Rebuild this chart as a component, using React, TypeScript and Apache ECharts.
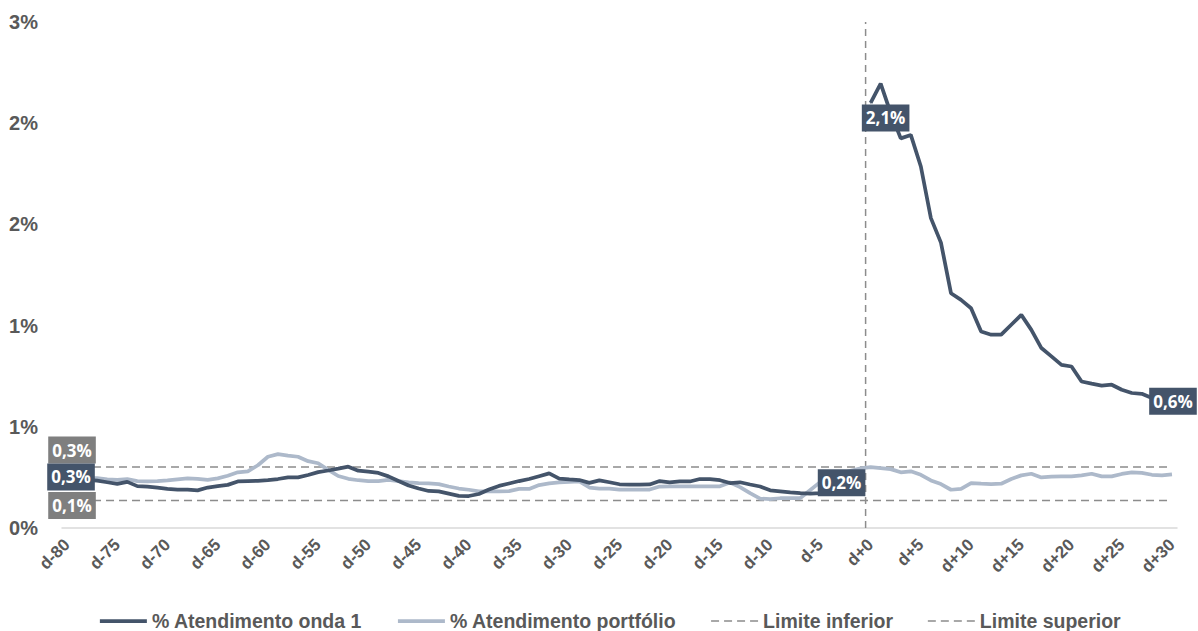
import React, { useEffect, useRef } from "react";
import * as echarts from "echarts";

// Day labels relative to the wave start: d-80 … d+30
const dayOffsets: number[] = Array.from({ length: 111 }, (_, i) => i - 80);
const categories: string[] = dayOffsets.map((d) => (d < 0 ? `d${d}` : `d+${d}`));

// % Atendimento onda 1 — before the wave (d-80 … d-1)
const ondaBefore: number[] = [
  0.252, 0.245, 0.238, 0.234, 0.226, 0.218, 0.228, 0.207, 0.204, 0.199,
  0.193, 0.19, 0.19, 0.186, 0.2, 0.207, 0.213, 0.23, 0.232, 0.233,
  0.236, 0.242, 0.25, 0.25, 0.262, 0.276, 0.284, 0.293, 0.303, 0.283,
  0.278, 0.272, 0.255, 0.232, 0.21, 0.195, 0.183, 0.181, 0.17, 0.159,
  0.158, 0.168, 0.19, 0.208, 0.22, 0.232, 0.242, 0.256, 0.27, 0.244,
  0.24, 0.237, 0.223, 0.235, 0.226, 0.216, 0.214, 0.214, 0.215, 0.232,
  0.225, 0.23, 0.23, 0.242, 0.242, 0.236, 0.222, 0.226, 0.215, 0.205,
  0.186, 0.181, 0.176, 0.172, 0.17, 0.172, 0.18, 0.19, 0.205, 0.224,
];

// % Atendimento onda 1 — from the wave start (d+0 … d+30)
const ondaAfter: number[] = [
  2.1, 2.195, 2.05, 1.925, 1.942, 1.786, 1.531, 1.41, 1.16, 1.127,
  1.086, 0.971, 0.955, 0.955, 1.004, 1.053, 0.979, 0.889, 0.848, 0.806,
  0.798, 0.724, 0.713, 0.703, 0.708, 0.683, 0.667, 0.663, 0.642, 0.632,
  0.626,
];

// % Atendimento portfólio (d-80 … d-1)
const portfolioBefore: number[] = [
  0.25, 0.25, 0.248, 0.247, 0.24, 0.238, 0.242, 0.232, 0.23, 0.232,
  0.235, 0.24, 0.245, 0.243, 0.238, 0.245, 0.258, 0.275, 0.28, 0.31,
  0.352, 0.365, 0.358, 0.352, 0.33, 0.32, 0.287, 0.257, 0.243, 0.236,
  0.232, 0.232, 0.238, 0.232, 0.226, 0.222, 0.22, 0.217, 0.205, 0.195,
  0.189, 0.181, 0.181, 0.181, 0.182, 0.193, 0.193, 0.212, 0.22, 0.225,
  0.228, 0.23, 0.2, 0.195, 0.195, 0.19, 0.189, 0.189, 0.19, 0.205,
  0.206, 0.206, 0.206, 0.206, 0.206, 0.206, 0.225, 0.202, 0.172, 0.145,
  0.143, 0.147, 0.148, 0.148, 0.188, 0.228, 0.25, 0.268, 0.283, 0.295,
];

// % Atendimento portfólio (d+0 … d+30)
const portfolioAfter: number[] = [
  0.301, 0.296, 0.291, 0.275, 0.28, 0.263, 0.235, 0.217, 0.189, 0.193,
  0.222, 0.219, 0.217, 0.219, 0.242, 0.26, 0.268, 0.25, 0.254, 0.255,
  0.255, 0.26, 0.268, 0.255, 0.255, 0.267, 0.275, 0.272, 0.263, 0.26,
  0.265,
];

// Control limits
const limiteInferior = 0.136;
const limiteSuperior = 0.301;

// Value-axis tick labels (0 … 2.5 by 0.5, shown with no decimals)
const yTickLabels: string[] = ["0%", "1%", "1%", "2%", "2%", "3%"];

const DARK = "#44546A";
const LIGHT = "#ADB9CA";
const GRAY = "#8C8C8C";
const TEXT = "#595959";

const pct = (v: number) => v.toFixed(1).replace(".", ",") + "%";

// Boxed value label attached to a single point
const labelled = (value: number, bg: string, offset: number[]) => ({
  value,
  symbol: "circle",
  symbolSize: 1,
  label: {
    show: true,
    position: "inside",
    offset,
    formatter: () => pct(value),
    backgroundColor: bg,
    color: "#FFFFFF",
    fontFamily: "Open Sans",
    fontWeight: "bold",
    fontSize: 17,
    lineHeight: 19,
    padding: [4, 4, 4, 4],
  },
});

export default function App() {
  const ref = useRef<HTMLDivElement>(null);

  useEffect(() => {
    document.body.style.margin = "0";
    if (!ref.current) return;
    const chart = echarts.init(ref.current, undefined, { renderer: "svg" });

    const n = categories.length;
    const nb = ondaBefore.length;
    const gap = (k: number) => Array.from({ length: k }, () => "-" as any);

    const ondaBeforeData: any[] = ondaBefore.map((v, i) => {
      if (i === 0) return labelled(v, DARK, [4, 0]);
      if (i === nb - 1) return labelled(v, DARK, [-19, 0]);
      return v;
    });
    const ondaAfterData: any[] = ondaAfter.map((v, i) => {
      if (i === 0) return labelled(v, DARK, [15, 15]);
      if (i === ondaAfter.length - 1) return labelled(v, DARK, [1, 0]);
      return v;
    });

    const limitData = (value: number, dy: number): any[] =>
      Array.from({ length: n }, (_, i) => (i === 0 ? labelled(value, "#7F7F7F", [5, dy]) : value));

    const portfolio = [...portfolioBefore, ...portfolioAfter];

    const lineBase = {
      type: "line",
      symbol: "none",
      showSymbol: true,
      showAllSymbol: true,
    };

    chart.setOption({
      animation: false,
      backgroundColor: "#FFFFFF",
      textStyle: { fontFamily: "Liberation Sans" },
      grid: { left: 62, right: 21, top: 22, bottom: 103, containLabel: false },
      legend: {
        top: 606,
        left: 93,
        itemWidth: 47,
        itemHeight: 14,
        itemGap: 34,
        selectedMode: false,
        itemStyle: { opacity: 0 },
        lineStyle: { width: "inherit" },
        data: [
          "% Atendimento onda 1",
          "% Atendimento portfólio",
          "Limite inferior",
          "Limite superior",
        ],
        textStyle: {
          color: TEXT,
          fontSize: 19.5,
          fontWeight: "bold",
          fontFamily: "Liberation Sans",
        },
      },
      xAxis: [
        {
          type: "category",
          data: categories,
          boundaryGap: true,
          axisLine: { show: true, lineStyle: { color: "#D9D9D9", width: 1.5 } },
          axisTick: { show: false },
          axisLabel: {
            interval: 4,
            rotate: 45,
            margin: 14,
            color: TEXT,
            fontSize: 17,
            fontWeight: "bold",
            fontFamily: "Liberation Sans",
          },
          splitLine: { show: false },
        },
        {
          // hidden numeric day axis, used to place the wave-start marker between d-1 and d+0
          type: "value",
          min: dayOffsets[0] - 0.5,
          max: dayOffsets[n - 1] + 0.5,
          show: false,
        },
      ],
      yAxis: {
        type: "value",
        min: 0,
        max: 2.5,
        interval: 0.5,
        axisLine: { show: false },
        axisTick: { show: false },
        splitLine: { show: false },
        axisLabel: {
          margin: 24,
          color: TEXT,
          fontSize: 20,
          fontWeight: "bold",
          fontFamily: "Liberation Sans",
          formatter: (v: number) => yTickLabels[Math.round(v / 0.5)],
        },
      },
      series: [
        {
          ...lineBase,
          name: "Limite inferior",
          data: limitData(limiteInferior, 5),
          z: 1,
          lineStyle: { color: GRAY, width: 1.5, type: [8, 5] },
          itemStyle: { color: GRAY },
        },
        {
          ...lineBase,
          name: "Limite superior",
          data: limitData(limiteSuperior, -17),
          z: 1,
          lineStyle: { color: GRAY, width: 1.5, type: [8, 5] },
          itemStyle: { color: GRAY },
        },
        {
          name: "wave-start",
          type: "line",
          xAxisIndex: 1,
          data: [
            [-0.5, 0],
            [-0.5, 2.5],
          ],
          symbol: "none",
          silent: true,
          z: 1,
          lineStyle: { color: GRAY, width: 1.5, type: [7, 5] },
        },
        {
          ...lineBase,
          name: "% Atendimento portfólio",
          data: portfolio,
          z: 2,
          lineStyle: { color: LIGHT, width: 3.75 },
          itemStyle: { color: LIGHT },
        },
        {
          ...lineBase,
          name: "% Atendimento onda 1",
          data: [...ondaBeforeData, ...gap(ondaAfter.length)],
          z: 3,
          lineStyle: { color: DARK, width: 3.75 },
          itemStyle: { color: DARK },
        },
        {
          ...lineBase,
          name: "% Atendimento onda 1",
          data: [...gap(nb), ...ondaAfterData],
          z: 3,
          lineStyle: { color: DARK, width: 3.75 },
          itemStyle: { color: DARK },
        },
      ],
    });

    return () => chart.dispose();
  }, []);

  return <div ref={ref} style={{ width: 1198, height: 631 }} />;
}
